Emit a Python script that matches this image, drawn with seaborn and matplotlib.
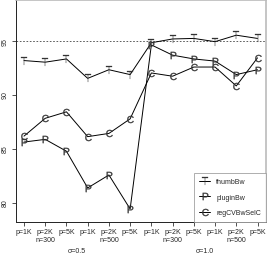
import matplotlib
matplotlib.use("Agg")
import matplotlib.pyplot as plt
import numpy as np
import pandas as pd
import seaborn as sns

sns.set_style("ticks")
plt.rcParams["font.family"] = ["Liberation Sans", "DejaVu Sans"]
plt.rcParams["mathtext.fontset"] = "custom"
plt.rcParams["mathtext.rm"] = "Liberation Sans"
plt.rcParams["mathtext.default"] = "rm"

# values
tick_labels = ["p=1K", "p=2K\nn=300", "p=5K", "p=1K", "p=2K\nn=500", "p=5K",
               "p=1K", "p=2K\nn=300", "p=5K", "p=1K", "p=2K\nn=500", "p=5K"]
sigma_labels = ["σ=0.5", "σ=1.0"]
sigma_centers = [3.5, 9.5]
methods = ["thumbBw", "pluginBw", "regCVBwSelC"]
marker_chars = ["T", "P", "C"]
thumb_bw = [93.15, 93.0, 93.3, 91.5, 92.3, 91.85, 94.8, 95.15, 95.2, 94.9, 95.5, 95.2]
plugin_bw = [85.6, 85.85, 84.75, 81.35, 82.55, 79.4, 94.6, 93.65, 93.3, 93.1, 91.85, 92.3]
regcv_bw = [86.15, 87.8, 88.4, 86.1, 86.4, 87.75, 92.0, 91.7, 92.55, 92.55, 90.8, 93.4]
ref_level = 95

xpos = np.arange(1, len(tick_labels) + 1)
df = pd.DataFrame({
    "x": np.tile(xpos, 3),
    "coverage": thumb_bw + plugin_bw + regcv_bw,
    "method": np.repeat(methods, len(xpos)),
})

fig = plt.figure(figsize=(2.68, 2.55), dpi=100)
ax = fig.add_axes([15.5 / 268, 1 - 222.5 / 255, (266 - 15.5) / 268, (222.5 - 1) / 255])

for m, ch in zip(methods, marker_chars):
    sub = df[df["method"] == m]
    sns.lineplot(data=sub, x="x", y="coverage", ax=ax, color="k", lw=0.7,
                 marker=f"${ch}$", markersize=5.2, markeredgewidth=0.2,
                 markerfacecolor="#333333", markeredgecolor="#333333", label=m)

ax.axhline(ref_level, color="#444444", lw=0.6, ls=(0, (2, 2)), zorder=0)

ax.set_xlim(0.6, 12.4)
ax.set_ylim(78.24, 98.76)
ax.set_xticks(xpos, tick_labels)
ax.set_yticks([80, 85, 90, 95])
ax.tick_params(axis="both", labelsize=5, length=2.8, width=0.6, color="#333333", pad=2.2)
plt.setp(ax.get_yticklabels(), rotation=90, va="center")
for lbl in ax.get_xticklabels():
    lbl.set_linespacing(1.2)
ax.set_xlabel("")
ax.set_ylabel("")

for s, xc in zip(sigma_labels, sigma_centers):
    ax.annotate(s, xy=(xc, 0), xycoords=("data", "axes fraction"),
                xytext=(0, -21.2), textcoords="offset points",
                ha="center", va="center", fontsize=5)

for side in ["left", "bottom"]:
    ax.spines[side].set_color("#222222")
    ax.spines[side].set_linewidth(0.7)
for side in ["top", "right"]:
    ax.spines[side].set_color("#bbbbbb")
    ax.spines[side].set_linewidth(1.2)

leg = ax.legend(loc="lower right", bbox_to_anchor=(1, 0),
                fontsize=5, frameon=True, fancybox=False, borderaxespad=0,
                handlelength=1.6, handletextpad=0.8, labelspacing=1.25,
                borderpad=0.75)
leg.get_frame().set_edgecolor("#999999")
leg.get_frame().set_linewidth(0.7)

fig.savefig("out.png", dpi=100)
